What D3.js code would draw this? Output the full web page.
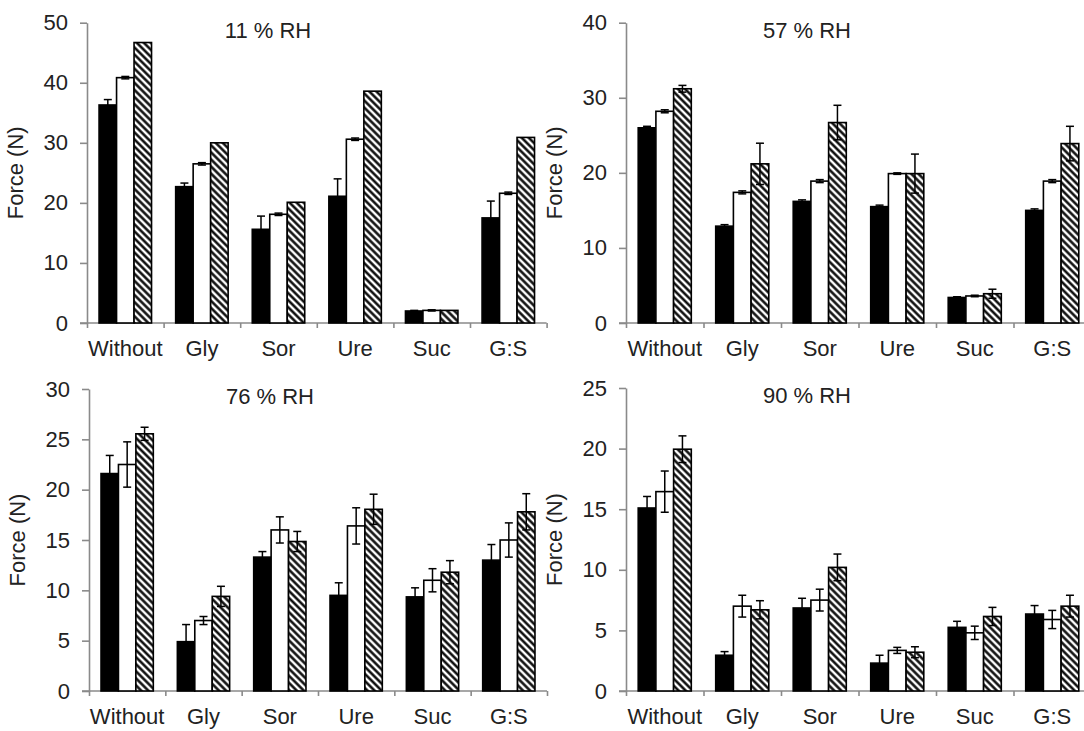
<!DOCTYPE html>
<html>
<head>
<meta charset="utf-8">
<script src="https://cdn.jsdelivr.net/npm/d3@7/dist/d3.min.js"></script>
<style>
  html, body { margin: 0; padding: 0; background: #fff; }
  svg { display: block; }
  text { font-family: "Liberation Sans", Arial, sans-serif; fill: #222; }
</style>
</head>
<body>
<svg id="chart" width="1084" height="731"></svg>
<script>
// ---------------- data ----------------
const categories = ["Without", "Gly", "Sor", "Ure", "Suc", "G:S"];
const seriesKeys = ["solid", "open", "hatched"];

// 11 % RH  (rows: solid, open, hatched; columns follow categories)
const rh11Mean = [
  [36.3, 22.7, 15.6, 21.1, 2.0, 17.5],
  [40.85, 26.5, 18.1, 30.6, 2.1, 21.6],
  [46.7, 30.0, 20.1, 38.6, 2.1, 30.9]
];
const rh11Err = [
  [0.9, 0.6, 2.2, 2.9, 0.1, 2.8],
  [0.2, 0.2, 0.2, 0.2, 0.1, 0.2],
  [0.0, 0.0, 0.0, 0.0, 0.0, 0.0]
];

// 57 % RH
const rh57Mean = [
  [26.0, 12.9, 16.2, 15.5, 3.4, 15.0],
  [28.2, 17.4, 18.9, 19.9, 3.6, 18.9],
  [31.2, 21.2, 26.7, 19.9, 3.9, 23.9]
];
const rh57Err = [
  [0.2, 0.2, 0.2, 0.2, 0.1, 0.2],
  [0.2, 0.2, 0.2, 0.1, 0.1, 0.2],
  [0.45, 2.75, 2.3, 2.6, 0.6, 2.3]
];

// 76 % RH
const rh76Mean = [
  [21.6, 4.9, 13.3, 9.5, 9.35, 13.0],
  [22.5, 7.0, 16.0, 16.4, 11.0, 15.0],
  [25.55, 9.4, 14.85, 18.05, 11.8, 17.8]
];
const rh76Err = [
  [1.8, 1.7, 0.55, 1.25, 0.9, 1.55],
  [2.25, 0.4, 1.3, 1.8, 1.15, 1.7],
  [0.65, 1.0, 1.0, 1.5, 1.15, 1.8]
];

// 90 % RH
const rh90Mean = [
  [15.1, 2.95, 6.85, 2.3, 5.25, 6.35],
  [16.45, 7.0, 7.5, 3.35, 4.8, 5.9],
  [19.95, 6.7, 10.2, 3.2, 6.15, 7.0]
];
const rh90Err = [
  [0.95, 0.3, 0.8, 0.65, 0.5, 0.7],
  [1.7, 0.9, 0.9, 0.25, 0.55, 0.75],
  [1.1, 0.75, 1.1, 0.45, 0.75, 0.9]
];

const titles = ["11 % RH", "57 % RH", "76 % RH", "90 % RH"];
const yMaxes = [50, 40, 30, 25];
const yTicks11 = [0, 10, 20, 30, 40, 50];
const yTicks57 = [0, 10, 20, 30, 40];
const yTicks76 = [0, 5, 10, 15, 20, 25, 30];
const yTicks90 = [0, 5, 10, 15, 20, 25];
const yLabel = "Force (N)";

// ---------------- layout ----------------
const panels = [
  { mean: rh11Mean, err: rh11Err, title: titles[0], yMax: yMaxes[0], ticks: yTicks11,
    left: 87, right: 546.6, bottom: 323, top: 22.7 },
  { mean: rh57Mean, err: rh57Err, title: titles[1], yMax: yMaxes[1], ticks: yTicks57,
    left: 626, right: 1091, bottom: 323, top: 22.7 },
  { mean: rh76Mean, err: rh76Err, title: titles[2], yMax: yMaxes[2], ticks: yTicks76,
    left: 89, right: 547, bottom: 691, top: 389 },
  { mean: rh90Mean, err: rh90Err, title: titles[3], yMax: yMaxes[3], ticks: yTicks90,
    left: 626, right: 1091, bottom: 691, top: 388 }
];

const svg = d3.select("#chart");
svg.append("rect").attr("width", 1084).attr("height", 731).attr("fill", "#fff");

// hatch pattern
const defs = svg.append("defs");
const pat = defs.append("pattern")
  .attr("id", "hatch")
  .attr("patternUnits", "userSpaceOnUse")
  .attr("width", 5).attr("height", 5)
  .attr("patternTransform", "rotate(-45)");
pat.append("rect").attr("width", 5).attr("height", 5).attr("fill", "#fff");
pat.append("line").attr("x1", 1.5).attr("y1", -1).attr("x2", 1.5).attr("y2", 6)
  .attr("stroke", "#000").attr("stroke-width", 2.4);

const fills = { solid: "#000", open: "#fff", hatched: "url(#hatch)" };
const FS = 22;
const axisColor = "#8a8a8a";

panels.forEach(p => {
  const g = svg.append("g");
  const x0 = d3.scaleBand().domain(categories).range([p.left, p.right]).padding(0);
  const x1 = d3.scaleBand().domain(seriesKeys).range([0, x0.bandwidth()]).paddingInner(0).paddingOuter(0.69);
  const y = d3.scaleLinear().domain([0, p.yMax]).range([p.bottom, p.top]);

  // y axis
  const ya = g.append("g").attr("transform", `translate(${p.left},0)`)
    .call(d3.axisLeft(y).tickValues(p.ticks).tickSize(7).tickSizeOuter(0).tickPadding(12));
  ya.select(".domain").attr("stroke", axisColor).attr("stroke-width", 1.6);
  ya.selectAll(".tick line").attr("stroke", axisColor).attr("stroke-width", 1.6);
  ya.selectAll(".tick text").attr("font-size", FS).attr("font-family", "Liberation Sans, Arial, sans-serif").attr("fill", "#222");

  // x axis boundary ticks
  const xb = d3.scaleLinear().domain([0, categories.length]).range([p.left, p.right]);
  const xa = g.append("g").attr("transform", `translate(0,${p.bottom})`)
    .call(d3.axisBottom(xb).tickValues(d3.range(0, categories.length + 1)).tickSize(5).tickSizeOuter(0).tickFormat(""));
  xa.select(".domain").remove();
  xa.selectAll(".tick line").attr("stroke", axisColor).attr("stroke-width", 1.6);
  g.append("line").attr("x1", p.left - 7).attr("x2", p.right)
    .attr("y1", p.bottom).attr("y2", p.bottom)
    .attr("stroke", axisColor).attr("stroke-width", 1.6);

  // category labels
  const xl = g.append("g").attr("transform", `translate(0,${p.bottom})`)
    .call(d3.axisBottom(x0).tickSize(0).tickPadding(17));
  xl.select(".domain").remove();
  xl.selectAll(".tick text").attr("font-size", FS).attr("font-family", "Liberation Sans, Arial, sans-serif").attr("fill", "#222");

  // bars
  seriesKeys.forEach((s, si) => {
    const vals = p.mean[si];
    const errs = p.err[si];
    const bg = g.append("g");
    bg.selectAll("rect").data(categories).join("rect")
      .attr("x", c => x0(c) + x1(s))
      .attr("y", (c, i) => y(vals[i]))
      .attr("width", x1.bandwidth())
      .attr("height", (c, i) => y(0) - y(vals[i]))
      .attr("fill", fills[s])
      .attr("stroke", "#000")
      .attr("stroke-width", 1.6);
    // error bars
    const eg = g.append("g").attr("stroke", "#000").attr("stroke-width", 1.5).attr("fill", "none");
    categories.forEach((c, i) => {
      if (errs[i] <= 0) return;
      const cx = x0(c) + x1(s) + x1.bandwidth() / 2;
      const yt = y(vals[i] + errs[i]);
      const yb = y(Math.max(0, vals[i] - errs[i]));
      eg.append("line").attr("x1", cx).attr("x2", cx).attr("y1", yt).attr("y2", yb);
      eg.append("line").attr("x1", cx - 4).attr("x2", cx + 4).attr("y1", yt).attr("y2", yt);
      eg.append("line").attr("x1", cx - 4).attr("x2", cx + 4).attr("y1", yb).attr("y2", yb);
    });
  });

  // title
  g.append("text").attr("x", p.left + 181).attr("y", p.top + 15)
    .attr("text-anchor", "middle").attr("font-size", FS).text(p.title);

  // y label
  g.append("text")
    .attr("transform", `translate(${p.left - 64},${(p.top + p.bottom) / 2}) rotate(-90)`)
    .attr("text-anchor", "middle").attr("font-size", FS).text(yLabel);
});
</script>
</body>
</html>
